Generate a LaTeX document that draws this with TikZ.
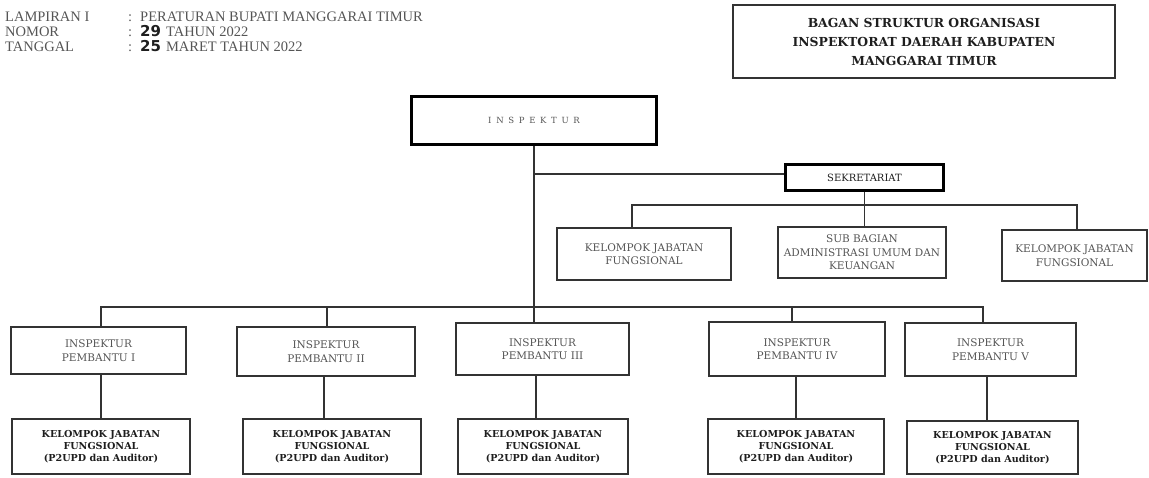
\documentclass[tikz,border=0pt]{standalone}
\usepackage{fontspec}
\setmainfont{Liberation Serif}
\newfontfamily\boxfont{DejaVu Serif}
\newfontfamily\spacedfont{DejaVu Serif}[LetterSpace=55]
\newfontfamily\handfont{DejaVu Sans}
\definecolor{linec}{HTML}{333333}
\definecolor{txtc}{HTML}{555555}
\definecolor{boldc}{HTML}{1E1E1E}
\begin{document}
\begin{tikzpicture}[x=1pt,y=-1pt,
  hdr/.style={anchor=base west,inner sep=0pt,font=\fontsize{14.5}{16}\selectfont,text=txtc},
  plainbox/.style={draw=linec,line width=1.1pt,inner sep=0pt,align=center,
    font=\boxfont\fontsize{10.5}{13.5}\selectfont,text=txtc},
  thickbox/.style={draw=black,line width=3.4pt,inner sep=0pt,align=center},
  titlebox/.style={draw=linec,line width=1.1pt,inner sep=0pt,align=center,
    font=\boxfont\bfseries\fontsize{12.4}{19}\selectfont,text=boldc},
  kjfbox/.style={draw=linec,line width=1.1pt,inner sep=0pt,align=center,
    font=\boxfont\bfseries\fontsize{9.6}{12}\selectfont,text=boldc},
  conn/.style={draw=linec,line width=1.1pt}]
\useasboundingbox (0,0) rectangle (1149,477);

% header
\node[hdr] (l1) at (5,21) {LAMPIRAN I};
\node[hdr] (l2) at (5,36) {NOMOR};
\node[hdr] (l3) at (5,51) {TANGGAL};
\node[hdr] (v1) at (128,21) {:\hspace{8pt}PERATURAN BUPATI MANGGARAI TIMUR};
\node[hdr] (v2) at (128,36) {:\hspace{8pt}{\handfont\bfseries\color{boldc}\fontsize{15}{16}\selectfont 29}\hspace{5pt}TAHUN 2022};
\node[hdr] (v3) at (128,51) {:\hspace{8pt}{\handfont\bfseries\color{boldc}\fontsize{15}{16}\selectfont 25}\hspace{5pt}MARET TAHUN 2022};

% title
\node[titlebox,minimum width=382pt,minimum height=73pt] (title) at (924,41.5)
  {BAGAN STRUKTUR ORGANISASI\\INSPEKTORAT DAERAH KABUPATEN\\MANGGARAI TIMUR};

% top
\node[thickbox,minimum width=245pt,minimum height=48pt,
  font=\spacedfont\fontsize{8.5}{10}\selectfont,text=txtc] (insp) at (534,120.5) {INSPEKTUR};
\node[thickbox,line width=3pt,minimum width=158pt,minimum height=26pt,
  font=\boxfont\fontsize{10}{12}\selectfont,text=boldc] (sek) at (864.5,177.5) {SEKRETARIAT};

\node[plainbox,minimum width=174pt,minimum height=52pt] (kjfA) at (644,254)
  {KELOMPOK JABATAN\\FUNGSIONAL};
\node[plainbox,minimum width=168pt,minimum height=51pt] (sub) at (862,252.5)
  {SUB BAGIAN\\ADMINISTRASI UMUM DAN\\KEUANGAN};
\node[plainbox,minimum width=145pt,minimum height=51pt] (kjfB) at (1074.5,255.5)
  {KELOMPOK JABATAN\\FUNGSIONAL};

% pembantu
\node[plainbox,minimum width=175pt,minimum height=47pt] (p1) at (98.5,350.5) {INSPEKTUR\\PEMBANTU I};
\node[plainbox,minimum width=178pt,minimum height=49pt] (p2) at (326,351.5) {INSPEKTUR\\PEMBANTU II};
\node[plainbox,minimum width=173pt,minimum height=52pt] (p3) at (542.5,349) {INSPEKTUR\\PEMBANTU III};
\node[plainbox,minimum width=176pt,minimum height=54pt] (p4) at (797,349) {INSPEKTUR\\PEMBANTU IV};
\node[plainbox,minimum width=171pt,minimum height=53pt] (p5) at (990.5,349.5) {INSPEKTUR\\PEMBANTU V};

% kelompok
\node[kjfbox,minimum width=178pt,minimum height=55pt] (k1) at (101,446.5) {KELOMPOK JABATAN\\FUNGSIONAL\\(P2UPD dan Auditor)};
\node[kjfbox,minimum width=178pt,minimum height=55pt] (k2) at (332,446.5) {KELOMPOK JABATAN\\FUNGSIONAL\\(P2UPD dan Auditor)};
\node[kjfbox,minimum width=170pt,minimum height=55pt] (k3) at (543,446.5) {KELOMPOK JABATAN\\FUNGSIONAL\\(P2UPD dan Auditor)};
\node[kjfbox,minimum width=176pt,minimum height=55pt] (k4) at (796,446.5) {KELOMPOK JABATAN\\FUNGSIONAL\\(P2UPD dan Auditor)};
\node[kjfbox,minimum width=171pt,minimum height=53pt] (k5) at (992.5,447.5) {KELOMPOK JABATAN\\FUNGSIONAL\\(P2UPD dan Auditor)};

% connectors
\coordinate (br) at (534,174);
\coordinate (b1) at (101,307);
\coordinate (b2) at (327,307);
\coordinate (b3) at (534,307);
\coordinate (b4) at (792,307);
\coordinate (b5) at (983,307);
\coordinate (sbL) at (632,205);
\coordinate (sbR) at (1077,205);
\coordinate (e2) at (324,400);
\coordinate (e3) at (536,400);
\coordinate (e5) at (987,400);

\draw[conn] (insp.south) -- (b3);
\draw[conn] (br) -- (br -| sek.west);
\draw[conn] (sek.south) -- (sek.south |- sub.north);
\draw[conn] (sbL |- kjfA.north) -- (sbL) -- (sbR) -- (sbR |- kjfB.north);
\draw[conn] (b1 |- p1.north) -- (b1) -- (b5) -- (b5 |- p5.north);
\draw[conn] (b2) -- (b2 |- p2.north);
\draw[conn] (b3) -- (b3 |- p3.north);
\draw[conn] (b4) -- (b4 |- p4.north);
\draw[conn] (k1.north |- p1.south) -- (k1.north);
\draw[conn] (e2 |- p2.south) -- (e2 |- k2.north);
\draw[conn] (e3 |- p3.south) -- (e3 |- k3.north);
\draw[conn] (k4.north |- p4.south) -- (k4.north);
\draw[conn] (e5 |- p5.south) -- (e5 |- k5.north);
\end{tikzpicture}
\end{document}
